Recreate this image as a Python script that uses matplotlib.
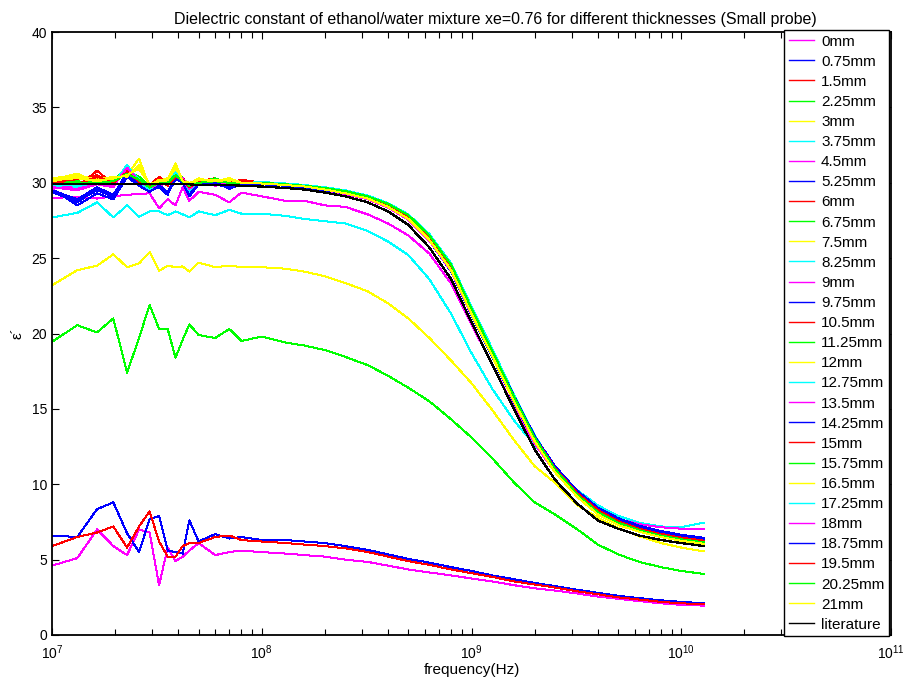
import matplotlib
matplotlib.use('Agg')
import matplotlib.pyplot as plt
from matplotlib.ticker import LogLocator, MultipleLocator

plt.rcParams['font.family'] = ['Liberation Sans', 'DejaVu Sans']
plt.rcParams['mathtext.fontset'] = 'custom'
plt.rcParams['mathtext.rm'] = 'Liberation Sans'
plt.rcParams['mathtext.it'] = 'Liberation Sans'
plt.rcParams['mathtext.default'] = 'regular'

freq_mhz = [10, 13.2, 16.4, 19.6, 22.8, 26, 29.2, 32.4, 35.6, 38.8, 42, 45.2, 50, 60, 70, 80,
            100, 130, 160, 200, 250, 320, 400, 500, 630, 800, 1000, 1260, 1600, 2000, 2500,
            3200, 4000, 5000, 6300, 8000, 10000, 12810]

# eps' for each thickness
eps_0mm = [4.6, 5.1, 7.0, 5.9, 5.3, 7.0, 6.8, 3.3, 5.8, 4.9, 5.2, 5.6, 6.1, 5.3, 5.5, 5.6,
           5.5, 5.4, 5.3, 5.2, 5.0, 4.85, 4.6, 4.35, 4.15, 3.95, 3.75, 3.55, 3.3, 3.1, 2.95,
           2.75, 2.55, 2.4, 2.25, 2.1, 2.0, 1.95]
eps_075mm = [6.6, 6.5, 8.35, 8.8, 6.75, 5.5, 7.7, 7.9, 5.6, 5.5, 5.4, 7.6, 6.2, 6.7, 6.4, 6.5,
             6.3, 6.3, 6.2, 6.1, 5.9, 5.65, 5.35, 5.05, 4.8, 4.5, 4.25, 3.95, 3.7, 3.45, 3.25,
             3.0, 2.8, 2.6, 2.45, 2.3, 2.2, 2.1]
eps_15mm = [5.9, 6.5, 6.8, 7.2, 5.8, 7.2, 8.2, 6.2, 5.2, 5.2, 5.9, 6.1, 6.1, 6.5, 6.6, 6.3,
            6.2, 6.1, 6.0, 5.9, 5.75, 5.5, 5.2, 4.9, 4.65, 4.35, 4.1, 3.85, 3.55, 3.35, 3.15,
            2.9, 2.7, 2.5, 2.35, 2.2, 2.1, 2.05]
eps_225mm = [19.45, 20.55, 20.07, 21.0, 17.4, 19.7, 21.9, 20.3, 20.3, 18.4, 19.6, 20.6, 19.9, 19.7, 20.3, 19.5,
             19.8, 19.4, 19.2, 18.9, 18.45, 17.9, 17.2, 16.4, 15.5, 14.3, 13.1, 11.7, 10.1, 8.8, 8.0,
             7.0, 6.0, 5.35, 4.85, 4.5, 4.25, 4.05]
eps_3mm = [23.2, 24.2, 24.5, 25.25, 24.4, 24.65, 25.4, 24.15, 24.5, 24.4, 24.45, 24.1, 24.7, 24.4, 24.5, 24.4,
           24.4, 24.3, 24.1, 23.8, 23.35, 22.8, 22.0, 21.0, 19.7, 18.2, 16.7, 14.9, 12.9, 11.2, 10.1,
           8.6, 7.8, 7.1, 6.55, 6.1, 5.8, 5.55]
eps_375mm = [27.7, 28.0, 28.7, 27.7, 28.5, 27.75, 28.1, 28.1, 27.85, 28.1, 27.9, 27.7, 28.1, 27.85, 28.2, 27.95,
             27.95, 27.8, 27.6, 27.45, 27.3, 26.8, 26.1, 25.2, 23.6, 21.3, 18.7, 16.3, 14.2, 12.6, 11.1,
             9.6, 8.6, 7.9, 7.45, 7.2, 7.15, 7.45]
eps_45mm = [29.0, 29.05, 28.95, 29.1, 29.2, 29.25, 29.3, 28.3, 28.9, 28.5, 29.7, 28.8, 29.4, 29.2, 28.7, 29.35,
            29.1, 28.8, 28.8, 28.5, 28.4, 27.9, 27.3, 26.5, 25.3, 23.3, 20.6, 17.9, 15.1, 12.7, 10.8,
            9.3, 8.3, 7.7, 7.35, 7.15, 7.05, 7.0]
eps_525mm = [29.6, 28.5, 29.3, 28.9, 30.4, 29.8, 29.5, 29.9, 29.3, 30.2, 30.1, 29.2, 30.0, 29.9, 29.7, 30.0,
             29.9, 29.8, 29.7, 29.5, 29.25, 28.9, 28.35, 27.55, 26.15, 24.1, 21.2, 18.4, 15.4, 12.85, 10.85,
             9.25, 8.15, 7.45, 7.0, 6.65, 6.4, 6.2]
eps_6mm = [30.1, 29.7, 30.8, 29.9, 30.9, 30.2, 29.6, 30.1, 29.9, 30.6, 30.2, 29.7, 30.1, 30.3, 29.9, 30.1,
           30.0, 29.9, 29.8, 29.6, 29.35, 29.0, 28.5, 27.7, 26.35, 24.4, 21.55, 18.75, 15.75, 13.15, 11.1,
           9.45, 8.35, 7.6, 7.1, 6.75, 6.5, 6.3]
eps_675mm = [29.8, 29.9, 30.2, 30.1, 31.0, 30.3, 29.5, 29.9, 30.0, 30.7, 30.3, 29.6, 30.0, 30.2, 30.1, 29.9,
             30.0, 29.9, 29.8, 29.6, 29.4, 29.05, 28.5, 27.7, 26.35, 24.35, 21.45, 18.6, 15.6, 13.0, 10.95,
             9.3, 8.15, 7.45, 7.0, 6.65, 6.4, 6.2]
eps_75mm = [30.2, 30.6, 30.0, 30.3, 30.5, 31.6, 29.7, 30.0, 30.2, 31.3, 30.1, 29.9, 30.3, 30.0, 30.2, 30.0,
            29.95, 29.85, 29.75, 29.55, 29.3, 28.95, 28.4, 27.6, 26.2, 24.2, 21.3, 18.45, 15.45, 12.85, 10.8,
            9.15, 8.05, 7.35, 6.9, 6.55, 6.3, 6.1]
eps_825mm = [30.0, 29.6, 30.1, 29.8, 31.2, 30.0, 29.4, 30.2, 29.8, 30.8, 30.0, 29.3, 30.2, 30.0, 29.8, 30.1,
             30.05, 29.95, 29.85, 29.65, 29.45, 29.1, 28.6, 27.85, 26.55, 24.6, 21.75, 18.9, 15.85, 13.2, 11.1,
             9.4, 8.25, 7.5, 7.0, 6.65, 6.4, 6.2]
eps_9mm = [29.7, 29.5, 29.9, 29.7, 31.1, 30.1, 29.6, 29.9, 30.0, 30.5, 30.2, 29.5, 30.1, 29.8, 30.0, 29.9,
           29.9, 29.8, 29.7, 29.5, 29.25, 28.9, 28.35, 27.55, 26.15, 24.15, 21.25, 18.45, 15.45, 12.85, 10.8,
           9.15, 8.05, 7.35, 6.9, 6.55, 6.3, 6.1]
eps_975mm = [29.4, 28.7, 29.6, 29.0, 30.8, 29.9, 29.5, 29.7, 29.2, 30.4, 30.0, 29.3, 29.9, 30.1, 29.6, 29.9,
             29.9, 29.8, 29.7, 29.5, 29.3, 28.95, 28.45, 27.7, 26.35, 24.4, 21.55, 18.75, 15.75, 13.15, 11.1,
             9.5, 8.4, 7.7, 7.2, 6.85, 6.6, 6.4]
eps_105mm = [30.0, 30.2, 30.5, 30.0, 30.7, 30.1, 29.8, 30.4, 29.9, 30.5, 30.3, 29.8, 30.2, 30.1, 30.0, 30.2,
             30.0, 29.9, 29.8, 29.6, 29.35, 29.0, 28.5, 27.75, 26.4, 24.45, 21.6, 18.8, 15.8, 13.2, 11.15,
             9.5, 8.4, 7.65, 7.15, 6.8, 6.55, 6.35]
eps_1125mm = [29.9, 30.1, 29.9, 30.2, 30.8, 30.4, 29.7, 30.0, 30.1, 30.6, 30.2, 29.9, 30.0, 30.3, 29.9, 30.0,
              29.95, 29.9, 29.8, 29.6, 29.35, 29.0, 28.45, 27.65, 26.3, 24.3, 21.4, 18.55, 15.55, 12.95, 10.9,
              9.25, 8.1, 7.4, 6.95, 6.6, 6.35, 6.15]
eps_12mm = [30.1, 30.4, 30.1, 30.2, 30.6, 30.9, 29.9, 30.1, 30.3, 30.9, 30.2, 30.0, 30.2, 30.1, 30.3, 30.0,
            30.0, 29.9, 29.8, 29.6, 29.35, 29.0, 28.45, 27.65, 26.25, 24.25, 21.35, 18.5, 15.5, 12.9, 10.85,
            9.2, 8.05, 7.35, 6.9, 6.55, 6.3, 6.1]
eps_1275mm = [29.8, 29.7, 30.2, 30.0, 31.1, 30.2, 29.5, 30.0, 29.9, 30.6, 30.1, 29.4, 30.1, 30.2, 29.9, 30.0,
              30.05, 29.95, 29.85, 29.7, 29.45, 29.1, 28.6, 27.85, 26.5, 24.55, 21.7, 18.85, 15.8, 13.15, 11.05,
              9.35, 8.2, 7.45, 6.95, 6.6, 6.35, 6.15]
eps_135mm = [29.6, 29.8, 30.0, 29.8, 30.9, 30.0, 29.6, 29.8, 30.0, 30.4, 30.3, 29.6, 30.0, 29.9, 30.1, 29.9,
             29.9, 29.8, 29.7, 29.5, 29.25, 28.9, 28.35, 27.55, 26.15, 24.15, 21.25, 18.45, 15.45, 12.85, 10.8,
             9.15, 8.05, 7.35, 6.9, 6.55, 6.3, 6.1]
eps_1425mm = [29.5, 28.9, 29.7, 29.2, 30.6, 29.9, 29.4, 29.8, 29.4, 30.3, 30.0, 29.2, 30.0, 30.0, 29.7, 29.9,
              29.9, 29.8, 29.7, 29.5, 29.3, 28.95, 28.45, 27.7, 26.35, 24.4, 21.55, 18.75, 15.8, 13.2, 11.2,
              9.55, 8.45, 7.75, 7.25, 6.9, 6.65, 6.45]
eps_15mm_b = [30.0, 29.9, 30.3, 30.1, 30.8, 30.0, 29.7, 30.2, 29.8, 30.5, 30.1, 29.7, 30.1, 30.0, 30.1, 30.0,
              29.95, 29.85, 29.75, 29.6, 29.35, 29.0, 28.45, 27.7, 26.35, 24.35, 21.5, 18.7, 15.7, 13.1, 11.05,
              9.4, 8.3, 7.55, 7.05, 6.7, 6.45, 6.25]
eps_1575mm = [29.9, 30.0, 30.1, 30.0, 30.7, 30.2, 29.6, 30.0, 30.0, 30.5, 30.2, 29.8, 30.1, 30.1, 30.0, 30.0,
              30.0, 29.9, 29.8, 29.65, 29.4, 29.05, 28.55, 27.8, 26.45, 24.5, 21.6, 18.75, 15.7, 13.1, 11.0,
              9.3, 8.15, 7.45, 6.95, 6.6, 6.35, 6.15]
eps_165mm = [30.3, 30.5, 30.2, 30.4, 30.4, 31.2, 29.8, 30.2, 30.1, 31.0, 30.0, 29.9, 30.1, 30.2, 30.1, 30.1,
             29.95, 29.85, 29.75, 29.55, 29.3, 28.95, 28.4, 27.6, 26.2, 24.2, 21.3, 18.45, 15.45, 12.85, 10.8,
             9.15, 8.0, 7.3, 6.85, 6.5, 6.25, 6.05]
eps_1725mm = [29.9, 29.8, 30.0, 29.9, 31.0, 30.1, 29.5, 30.1, 29.9, 30.7, 30.0, 29.5, 30.1, 30.1, 29.9, 30.0,
              30.05, 29.95, 29.85, 29.7, 29.5, 29.15, 28.65, 27.9, 26.6, 24.65, 21.8, 18.95, 15.9, 13.25, 11.1,
              9.4, 8.2, 7.45, 6.95, 6.6, 6.35, 6.15]
eps_18mm = [29.7, 29.6, 29.9, 29.8, 31.0, 30.1, 29.7, 29.8, 30.0, 30.5, 30.1, 29.6, 30.1, 29.9, 30.0, 30.0,
            29.9, 29.8, 29.7, 29.5, 29.25, 28.9, 28.4, 27.6, 26.2, 24.2, 21.3, 18.5, 15.5, 12.9, 10.85,
            9.2, 8.1, 7.4, 6.95, 6.6, 6.35, 6.15]
eps_1875mm = [29.5, 28.8, 29.5, 29.1, 30.7, 29.8, 29.4, 29.8, 29.3, 30.3, 30.0, 29.1, 29.9, 30.0, 29.7, 29.9,
              29.9, 29.8, 29.7, 29.5, 29.3, 28.95, 28.45, 27.7, 26.35, 24.4, 21.55, 18.75, 15.8, 13.2, 11.15,
              9.5, 8.4, 7.7, 7.2, 6.85, 6.6, 6.4]
eps_195mm = [30.0, 29.9, 30.4, 30.0, 30.7, 30.1, 29.8, 30.1, 29.8, 30.4, 30.2, 29.7, 30.1, 30.1, 30.0, 30.1,
             29.95, 29.85, 29.75, 29.6, 29.35, 29.0, 28.5, 27.7, 26.35, 24.4, 21.5, 18.7, 15.7, 13.1, 11.05,
             9.4, 8.3, 7.55, 7.05, 6.7, 6.45, 6.25]
eps_2025mm = [29.9, 30.0, 30.0, 30.1, 30.6, 30.2, 29.7, 30.0, 30.0, 30.5, 30.1, 29.8, 30.0, 30.1, 30.0, 30.0,
              30.0, 29.9, 29.8, 29.65, 29.45, 29.1, 28.6, 27.85, 26.5, 24.55, 21.65, 18.8, 15.75, 13.1, 11.0,
              9.3, 8.15, 7.45, 6.95, 6.6, 6.35, 6.15]
eps_21mm = [30.2, 30.3, 30.1, 30.3, 30.5, 31.0, 29.9, 30.1, 30.2, 31.1, 30.1, 29.9, 30.2, 30.1, 30.2, 30.0,
            29.95, 29.85, 29.75, 29.55, 29.3, 28.95, 28.4, 27.6, 26.2, 24.2, 21.3, 18.45, 15.45, 12.85, 10.8,
            9.15, 8.0, 7.3, 6.85, 6.5, 6.25, 6.05]
eps_literature = [29.9, 29.9, 29.9, 29.9, 29.9, 29.9, 29.9, 29.9, 29.9, 29.9, 29.9, 29.9, 29.85, 29.85, 29.85, 29.8,
                  29.75, 29.65, 29.55, 29.35, 29.1, 28.7, 28.1, 27.2, 25.7, 23.6, 20.75, 17.9, 14.95, 12.3, 10.3,
                  8.7, 7.6, 7.05, 6.6, 6.3, 6.1, 5.9]

labels = ['0mm', '0.75mm', '1.5mm', '2.25mm', '3mm', '3.75mm', '4.5mm', '5.25mm', '6mm',
          '6.75mm', '7.5mm', '8.25mm', '9mm', '9.75mm', '10.5mm', '11.25mm', '12mm', '12.75mm',
          '13.5mm', '14.25mm', '15mm', '15.75mm', '16.5mm', '17.25mm', '18mm', '18.75mm',
          '19.5mm', '20.25mm', '21mm']
series = [eps_0mm, eps_075mm, eps_15mm, eps_225mm, eps_3mm, eps_375mm, eps_45mm, eps_525mm,
          eps_6mm, eps_675mm, eps_75mm, eps_825mm, eps_9mm, eps_975mm, eps_105mm, eps_1125mm,
          eps_12mm, eps_1275mm, eps_135mm, eps_1425mm, eps_15mm_b, eps_1575mm, eps_165mm,
          eps_1725mm, eps_18mm, eps_1875mm, eps_195mm, eps_2025mm, eps_21mm]
# matlab-style colour cycle: m b r g y c
colors = ['#ff00ff', '#0000ff', '#ff0000', '#00ff00', '#ffff00', '#00ffff']

freq = [f * 1e6 for f in freq_mhz]

fig = plt.figure(figsize=(9.05, 6.82), dpi=100)
ax = fig.add_axes([52/905, 47/682, 839/905, 603/682])

for i, (lab, vals) in enumerate(zip(labels, series)):
    ax.plot(freq, vals, color=colors[i % 6], lw=0.72, antialiased=False, label=lab)
ax.plot(freq, eps_literature, color='black', lw=0.9, antialiased=False, label='literature')

ax.set_xscale('log')
ax.set_xlim(1e7, 1e11)
ax.set_ylim(0, 40)
ax.yaxis.set_major_locator(MultipleLocator(5))
ax.xaxis.set_major_locator(LogLocator(base=10, numticks=10))
ax.xaxis.set_minor_locator(LogLocator(base=10, subs=range(2, 10), numticks=40))
ax.tick_params(which='both', direction='in', top=True, right=True, labelsize=10)
ax.tick_params(axis='x', pad=6)
ax.tick_params(which='major', length=5, width=0.8)
ax.tick_params(which='minor', length=4, width=0.8)
for s in ax.spines.values():
    s.set_linewidth(1.3)

ax.set_title('Dielectric constant of ethanol/water mixture xe=0.76 for different thicknesses (Small probe)',
             fontsize=11.5, pad=6)
ax.title.set_x(0.528)
ax.set_xlabel('frequency(Hz)', fontsize=11, labelpad=1)
ax.set_ylabel('ε´', fontsize=11, labelpad=5)

leg = ax.legend(loc='upper right', bbox_to_anchor=(0.9976, 1.0033), fontsize=11, frameon=True,
                fancybox=False, framealpha=1, edgecolor='black', borderaxespad=0,
                handlelength=1.65, handletextpad=0.45, labelspacing=0.40, borderpad=0.3)
leg.get_frame().set_linewidth(1.0)
for h in leg.get_lines():
    h.set_antialiased(True)
    h.set_linewidth(1.0)

plt.savefig('out.png', dpi=100)
